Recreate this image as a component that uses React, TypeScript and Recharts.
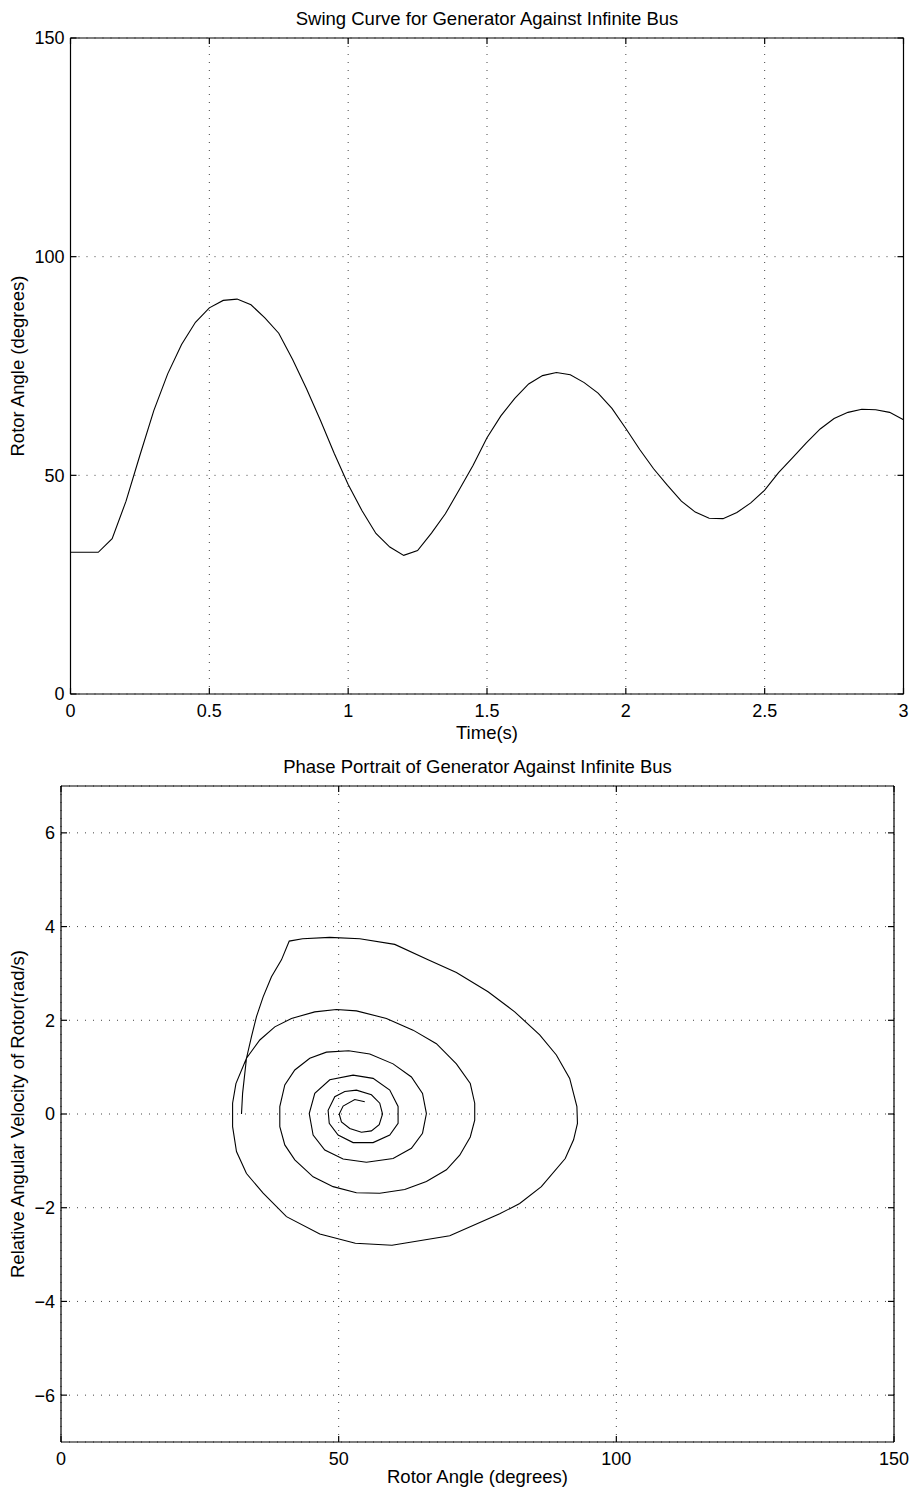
import { LineChart, Line, XAxis, YAxis, CartesianGrid } from 'recharts';

const swingTime = [
  0, 0.05, 0.1, 0.15, 0.2, 0.25, 0.3, 0.35, 0.4, 0.45, 0.5, 0.55, 0.6, 0.65, 0.7, 0.75,
  0.8, 0.85, 0.9, 0.95, 1.0, 1.05, 1.1, 1.15, 1.2, 1.25, 1.3, 1.35, 1.4, 1.45, 1.5,
  1.55, 1.6, 1.65, 1.7, 1.75, 1.8, 1.85, 1.9, 1.95, 2.0, 2.05, 2.1, 2.15, 2.2, 2.25,
  2.3, 2.35, 2.4, 2.45, 2.5, 2.55, 2.6, 2.65, 2.7, 2.75, 2.8, 2.85, 2.9, 2.95, 3.0,
];

const swingAngle = [
  32.4, 32.4, 32.4, 35.5, 44.1, 54.6, 64.8, 73.2, 79.9, 85.0, 88.3, 90.0, 90.3, 89.0, 86.0, 82.5,
  76.5, 69.8, 62.6, 55.0, 47.9, 41.9, 36.7, 33.6, 31.7, 32.8, 36.8, 41.2, 46.7, 52.3, 58.6,
  63.6, 67.6, 70.9, 72.8, 73.5, 73.0, 71.2, 68.8, 65.3, 60.7, 55.9, 51.5, 47.7, 44.1, 41.6,
  40.2, 40.1, 41.5, 43.7, 46.6, 50.6, 54.0, 57.4, 60.6, 63.0, 64.4, 65.1, 65.0, 64.4, 62.7,
];

const phaseAngle = [
  32.5, 32.7, 33.4, 34.3, 35.2, 36.4, 37.9, 39.7, 41.1, 43.5, 48.4, 53.8, 60.1, 66.1, 71.2,
  76.9, 81.7, 86.2, 89.2, 91.6, 92.9, 93.0, 92.3, 90.8, 86.5, 82.6, 79.0, 70.0, 59.6, 53.0,
  46.6, 40.6, 36.4, 33.4, 31.6, 30.9, 30.9, 31.5, 33.4, 35.8, 38.5, 41.5, 45.7, 49.6, 53.2,
  58.6, 63.4, 67.6, 71.2, 73.7, 74.5, 74.5, 73.7, 71.8, 69.4, 65.8, 61.9, 57.4, 53.2, 49.0,
  45.4, 42.1, 40.3, 39.4, 39.4, 40.3, 42.1, 44.8, 47.8, 51.8, 55.6, 59.8, 63.1, 65.1, 65.8,
  65.1, 63.1, 59.8, 55.0, 50.8, 47.5, 45.4, 44.7, 45.7, 48.4, 52.6, 56.2, 59.2, 60.7, 60.7,
  59.2, 56.2, 52.6, 49.9, 48.3, 48.1, 49.3, 51.1, 53.2, 55.9, 57.4, 57.9, 57.3, 55.9, 54.1,
  52.0, 50.5, 50.1, 50.8, 52.9, 54.7,
];

const phaseVelocity = [
  0, 0.44, 1.19, 1.65, 2.08, 2.5, 2.93, 3.29, 3.69, 3.74, 3.77, 3.74, 3.62, 3.29, 3.02,
  2.61, 2.18, 1.69, 1.26, 0.76, 0.16, -0.2, -0.55, -0.95, -1.55, -1.91, -2.13, -2.6, -2.8, -2.76,
  -2.56, -2.19, -1.69, -1.27, -0.8, -0.27, 0.23, 0.65, 1.19, 1.58, 1.86, 2.04, 2.18, 2.23, 2.2,
  2.04, 1.79, 1.5, 1.07, 0.65, 0.23, -0.13, -0.49, -0.88, -1.19, -1.44, -1.61, -1.69, -1.68, -1.55,
  -1.34, -0.98, -0.66, -0.27, 0.16, 0.62, 0.94, 1.19, 1.32, 1.35, 1.28, 1.07, 0.79, 0.44, 0.01,
  -0.41, -0.73, -0.95, -1.03, -0.96, -0.77, -0.45, 0.01, 0.44, 0.73, 0.83, 0.76, 0.51, 0.16, -0.2,
  -0.45, -0.61, -0.61, -0.45, -0.2, 0.08, 0.37, 0.48, 0.51, 0.41, 0.23, 0, -0.23, -0.36, -0.39,
  -0.31, -0.17, 0, 0.17, 0.31, 0.26,
];

const swingXTicks = [0, 0.5, 1, 1.5, 2, 2.5, 3];
const swingYTicks = [0, 50, 100, 150];
const phaseXTicks = [0, 50, 100, 150];
const phaseYTicks = [-6, -4, -2, 0, 2, 4, 6];

const swingData = swingTime.map((t, i) => ({ t, delta: swingAngle[i] }));
const phaseData = phaseAngle.map((a, i) => ({ angle: a, omega: phaseVelocity[i] }));

const FONT = '"Liberation Sans", Arial, Helvetica, sans-serif';
const tickStyle = { fill: '#000', fontSize: 18, fontFamily: FONT };
const axisLine = { stroke: '#000', strokeWidth: 1.2 };
const minus = (v: number) => (v < 0 ? '\u2212' + Math.abs(v) : String(v));
const blank = () => '';

const textBase: React.CSSProperties = {
  position: 'absolute',
  fontFamily: FONT,
  fontSize: 18.5,
  lineHeight: '20px',
  color: '#000',
  whiteSpace: 'nowrap',
};

export default function App() {
  return (
    <div style={{ position: 'absolute', left: 0, top: 0, width: 914, height: 1494, background: '#fff' }}>
      <div style={{ position: 'absolute', left: 0, top: 0 }}>
        <LineChart width={914} height={760} data={swingData}
          margin={{ top: 37, right: 9.5, bottom: 65, left: 69.5 }}>
          <CartesianGrid stroke="#444" strokeDasharray="1 7" />
          <XAxis dataKey="t" type="number" domain={[0, 3]} ticks={swingXTicks} interval={0}
            height={1} tickSize={-6} tickMargin={16} axisLine={axisLine} tickLine={axisLine} tick={tickStyle} />
          <XAxis xAxisId="top" orientation="top" dataKey="t" type="number" domain={[0, 3]} ticks={swingXTicks}
            interval={0} height={1} tickSize={-6} axisLine={axisLine} tickLine={axisLine} tickFormatter={blank} />
          <YAxis type="number" domain={[0, 150]} ticks={swingYTicks} interval={0} width={1}
            tickSize={-6} tickMargin={12} axisLine={axisLine} tickLine={axisLine} tick={tickStyle} />
          <YAxis yAxisId="right" orientation="right" type="number" domain={[0, 150]} allowDataOverflow
            ticks={swingYTicks} interval={0} width={1} tickSize={-6} axisLine={axisLine} tickLine={axisLine}
            tickFormatter={blank} />
          <Line type="linear" dataKey="delta" stroke="#000" strokeWidth={1.1} dot={false} isAnimationActive={false} />
        </LineChart>
      </div>

      <div style={{ position: 'absolute', left: 0, top: 740 }}>
        <LineChart width={914} height={754} data={phaseData}
          margin={{ top: 45, right: 19, bottom: 51, left: 60 }}>
          <CartesianGrid stroke="#444" strokeDasharray="1 7" />
          <XAxis dataKey="angle" type="number" domain={[0, 150]} ticks={phaseXTicks} interval={0}
            allowDataOverflow height={1} tickSize={-6} tickMargin={16} axisLine={axisLine} tickLine={axisLine}
            tick={tickStyle} />
          <XAxis xAxisId="top" orientation="top" dataKey="angle" type="number" domain={[0, 150]}
            allowDataOverflow ticks={phaseXTicks} interval={0} height={1} tickSize={-6} axisLine={axisLine}
            tickLine={axisLine} tickFormatter={blank} />
          <YAxis type="number" domain={[-7, 7]} ticks={phaseYTicks} interval={0} allowDataOverflow width={1}
            tickSize={-6} tickMargin={12} axisLine={axisLine} tickLine={axisLine} tick={tickStyle}
            tickFormatter={minus} />
          <YAxis yAxisId="right" orientation="right" type="number" domain={[-7, 7]} allowDataOverflow
            ticks={phaseYTicks} interval={0} width={1} tickSize={-6} axisLine={axisLine} tickLine={axisLine}
            tickFormatter={blank} />
          <Line type="linear" dataKey="omega" stroke="#000" strokeWidth={1.1} dot={false} isAnimationActive={false} />
        </LineChart>
      </div>

      <div style={{ ...textBase, left: 487, top: 9, transform: 'translateX(-50%)' }}>
        Swing Curve for Generator Against Infinite Bus
      </div>
      <div style={{ ...textBase, left: 487, top: 723, transform: 'translateX(-50%)' }}>Time(s)</div>
      <div style={{ ...textBase, left: 18, top: 366, transform: 'translate(-50%, -50%) rotate(-90deg)' }}>
        Rotor Angle (degrees)
      </div>

      <div style={{ ...textBase, left: 477.5, top: 757, transform: 'translateX(-50%)' }}>
        Phase Portrait of Generator Against Infinite Bus
      </div>
      <div style={{ ...textBase, left: 477.5, top: 1467, transform: 'translateX(-50%)' }}>
        Rotor Angle (degrees)
      </div>
      <div style={{ ...textBase, left: 18, top: 1114, transform: 'translate(-50%, -50%) rotate(-90deg)' }}>
        Relative Angular Velocity of Rotor(rad/s)
      </div>
    </div>
  );
}
